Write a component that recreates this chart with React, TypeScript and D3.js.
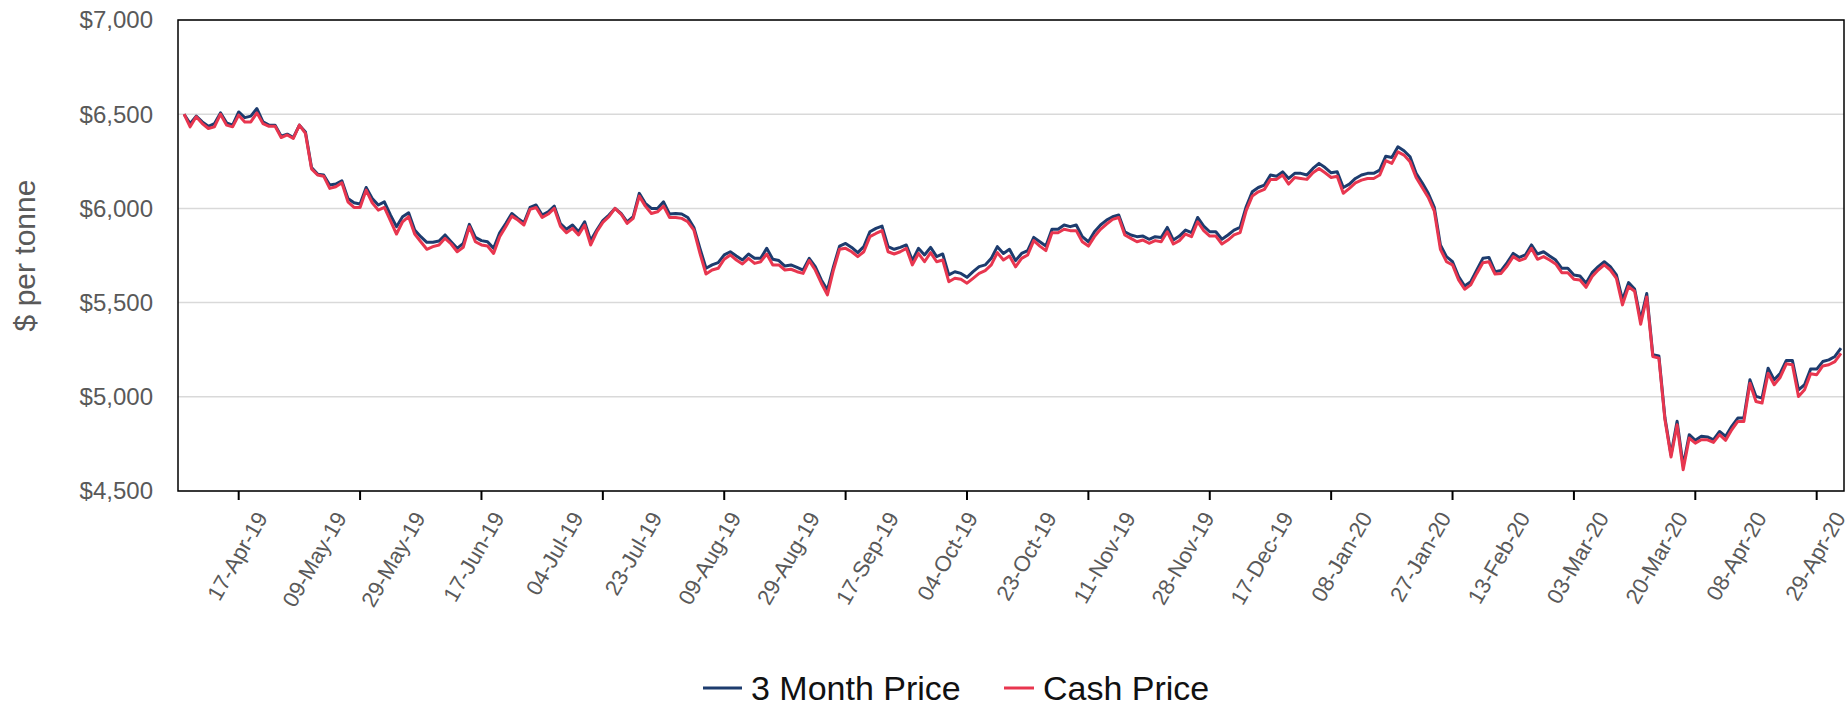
import React from "react";
import * as d3 from "d3";

// LME copper, daily closes, 29-Mar-19 .. 29-Apr-20 (one value per trading day)
const threeMonthPrice = [
  6500, 6450, 6490, 6459, 6436, 6450, 6507, 6454, 6442, 6512, 6482, 6490, 6530, 6459, 6442, 6442, 6383, 6394, 6376, 6442,
  6406, 6217, 6182, 6177, 6124, 6129, 6147, 6053, 6030, 6023, 6111, 6053, 6018, 6035, 5965, 5903, 5956, 5977, 5885, 5850,
  5820, 5820, 5827, 5859, 5823, 5788, 5814, 5915, 5846, 5829, 5823, 5788, 5871, 5920, 5973, 5947, 5924, 6005, 6018, 5965,
  5982, 6012, 5920, 5889, 5912, 5876, 5929, 5829, 5885, 5935, 5965, 6000, 5973, 5929, 5956, 6080, 6027, 6000, 6000, 6035,
  5970, 5973, 5970, 5952, 5899, 5788, 5682, 5700, 5712, 5753, 5770, 5747, 5726, 5758, 5735, 5735, 5788, 5730, 5723, 5694,
  5700, 5687, 5673, 5735, 5691, 5620, 5567, 5691, 5800, 5814, 5793, 5765, 5797, 5876, 5894, 5906, 5797, 5783, 5793, 5806,
  5723, 5788, 5753, 5793, 5744, 5758, 5647, 5664, 5655, 5634, 5664, 5691, 5700, 5735, 5797, 5761, 5783, 5723, 5761, 5776,
  5846, 5823, 5800, 5889, 5889, 5912, 5903, 5912, 5850, 5823, 5876, 5912, 5938, 5956, 5965, 5876, 5859, 5850, 5853, 5836,
  5850, 5846, 5899, 5832, 5853, 5885, 5871, 5952, 5906, 5876, 5876, 5836, 5859, 5885, 5899, 6009, 6088, 6111, 6124, 6177,
  6171, 6194, 6159, 6186, 6186, 6177, 6212, 6239, 6217, 6189, 6194, 6111, 6129, 6159, 6177, 6186, 6186, 6203, 6277, 6270,
  6327, 6306, 6274, 6186, 6136, 6080, 6005, 5806, 5744, 5717, 5638, 5588, 5611, 5673, 5735, 5740, 5664, 5670, 5712, 5761,
  5740, 5753, 5806, 5758, 5770, 5747, 5726, 5682, 5682, 5647, 5641, 5603, 5659, 5691, 5717, 5691, 5647, 5514, 5606, 5572,
  5408, 5548, 5223, 5217, 4887, 4693, 4870, 4634, 4799, 4769, 4790, 4787, 4772, 4816, 4790, 4843, 4887, 4887, 5090, 5002,
  4993, 5152, 5090, 5125, 5193, 5193, 5037, 5064, 5147, 5147, 5187, 5196, 5214, 5258,
];

const cashPrice = [
  6500, 6433, 6486, 6450, 6424, 6433, 6500, 6442, 6433, 6495, 6459, 6459, 6507, 6450, 6436, 6436, 6376, 6390, 6371, 6442,
  6398, 6210, 6177, 6171, 6106, 6115, 6136, 6035, 6005, 6005, 6097, 6030, 5991, 6005, 5935, 5864, 5929, 5956, 5864, 5823,
  5783, 5797, 5806, 5841, 5811, 5770, 5793, 5903, 5823, 5806, 5800, 5761, 5850, 5903, 5959, 5938, 5912, 5995, 6005, 5952,
  5970, 6000, 5906, 5871, 5894, 5859, 5912, 5806, 5876, 5926, 5956, 6000, 5970, 5920, 5947, 6065, 6012, 5973, 5982, 6012,
  5952, 5952, 5947, 5929, 5885, 5761, 5652, 5673, 5682, 5730, 5753, 5726, 5705, 5735, 5708, 5717, 5758, 5700, 5700, 5673,
  5677, 5664, 5655, 5723, 5673, 5603, 5541, 5673, 5783, 5788, 5770, 5744, 5770, 5850, 5867, 5882, 5770, 5758, 5770, 5788,
  5700, 5761, 5717, 5765, 5717, 5726, 5611, 5629, 5624, 5603, 5629, 5655, 5670, 5700, 5765, 5726, 5747, 5690, 5735, 5753,
  5829, 5800, 5776, 5871, 5871, 5889, 5882, 5882, 5823, 5800, 5850, 5889, 5917, 5942, 5952, 5859, 5841, 5823, 5832, 5815,
  5829, 5823, 5876, 5811, 5829, 5864, 5850, 5929, 5882, 5853, 5853, 5811, 5832, 5859, 5871, 5988, 6065, 6088, 6101, 6154,
  6154, 6177, 6129, 6164, 6159, 6154, 6189, 6212, 6189, 6164, 6171, 6080, 6106, 6136, 6150, 6159, 6159, 6177, 6253, 6239,
  6300, 6283, 6247, 6164, 6111, 6058, 5985, 5783, 5717, 5700, 5620, 5571, 5594, 5655, 5712, 5717, 5652, 5655, 5694, 5744,
  5723, 5735, 5788, 5730, 5744, 5726, 5705, 5659, 5659, 5624, 5620, 5581, 5638, 5673, 5700, 5673, 5629, 5488, 5585, 5560,
  5385, 5530, 5214, 5205, 4878, 4680, 4852, 4613, 4781, 4754, 4772, 4772, 4758, 4799, 4769, 4825, 4869, 4869, 5072, 4975,
  4967, 5125, 5064, 5104, 5175, 5170, 5002, 5037, 5122, 5117, 5164, 5170, 5187, 5231,
];

// one label every 13 trading days (first at day 13)
const xLabels = [
  "17-Apr-19", "09-May-19", "29-May-19", "17-Jun-19", "04-Jul-19", "23-Jul-19", "09-Aug-19",
  "29-Aug-19", "17-Sep-19", "04-Oct-19", "23-Oct-19", "11-Nov-19", "28-Nov-19", "17-Dec-19",
  "08-Jan-20", "27-Jan-20", "13-Feb-20", "03-Mar-20", "20-Mar-20", "08-Apr-20", "29-Apr-20",
];
const labelEvery = 13;
// tick marks sit every 20 days starting at day 9 (they do not line up with the labels)
const tickEvery = 20;
const tickStart = 9;

const yTicks = [4500, 5000, 5500, 6000, 6500, 7000];

const series = [
  { name: "3 Month Price", values: threeMonthPrice, color: "#1d3c6e" },
  { name: "Cash Price", values: cashPrice, color: "#e8364f" },
];

const W = 1846;
const H = 708;
const m = { left: 178, right: 1844, top: 20, bottom: 491 };
const font = "'Liberation Sans', Arial, sans-serif";

export default function App() {
  const n = threeMonthPrice.length;
  const x = d3.scaleLinear().domain([-1, n - 0.5]).range([m.left, m.right]);
  const y = d3.scaleLinear().domain([4500, 7000]).range([m.bottom, m.top]);
  const line = d3
    .line<number>()
    .x((_, i) => x(i))
    .y((d) => y(d));
  const fmt = d3.format("$,");

  const tickIdx = d3.range(tickStart, n, tickEvery);
  const legendY = 688;

  return (
    <svg width={W} height={H} style={{ position: "absolute", left: 0, top: 0, fontFamily: font }}>
      <rect width={W} height={H} fill="#fff" />

      {/* grid */}
      {yTicks.map((t) => (
        <line key={t} x1={m.left} x2={m.right} y1={y(t)} y2={y(t)} stroke="#d9d9d9" strokeWidth={1.5} />
      ))}

      {/* y labels */}
      {yTicks.map((t) => (
        <text key={"l" + t} x={153} y={y(t)} dy="0.35em" textAnchor="end" fontSize={24} fill="#595959">
          {fmt(t)}
        </text>
      ))}

      <text
        transform={`translate(24,${(m.top + m.bottom) / 2}) rotate(-90)`}
        textAnchor="middle"
        dy="0.35em"
        fontSize={30}
        fill="#595959"
      >
        $ per tonne
      </text>

      {/* lines */}
      {series.map((s) => (
        <path key={s.name} d={line(s.values) || ""} fill="none" stroke={s.color} strokeWidth={3} strokeLinejoin="round" />
      ))}

      {/* frame */}
      <rect x={m.left} y={m.top} width={m.right - m.left} height={m.bottom - m.top} fill="none" stroke="#000" strokeWidth={1.5} />

      {/* x ticks */}
      {tickIdx.map((i) => (
        <line key={"t" + i} x1={x(i)} x2={x(i)} y1={m.bottom} y2={m.bottom + 9} stroke="#000" strokeWidth={2} />
      ))}

      {xLabels.map((lab, k) => {
        const i = (k + 1) * labelEvery;
        return (
          <text
            key={lab}
            transform={`translate(${x(i) - 6},${m.bottom + 20}) rotate(-60)`}
            textAnchor="end"
            dy="0.6em"
            fontSize={22}
            fill="#595959"
          >
            {lab}
          </text>
        );
      })}

      {/* legend */}
      <g>
        <line x1={703} x2={742} y1={legendY} y2={legendY} stroke={series[0].color} strokeWidth={3} />
        <text x={751} y={legendY} dy="0.35em" fontSize={34} fill="#111">
          {series[0].name}
        </text>
        <line x1={1004} x2={1034} y1={legendY} y2={legendY} stroke={series[1].color} strokeWidth={3} />
        <text x={1043} y={legendY} dy="0.35em" fontSize={34} fill="#111">
          {series[1].name}
        </text>
      </g>
    </svg>
  );
}
